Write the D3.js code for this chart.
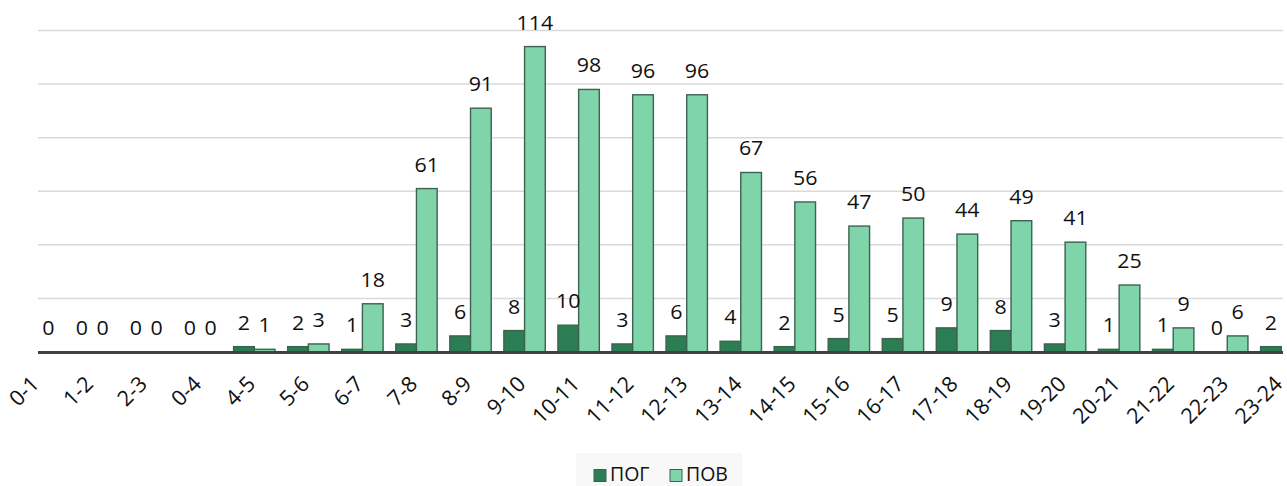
<!DOCTYPE html>
<html>
<head>
<meta charset="utf-8">
<script src="https://cdn.jsdelivr.net/npm/d3@7"></script>
<style>
  html, body { margin: 0; padding: 0; background: #ffffff; }
  svg { display: block; font-family: "Open Sans", "Noto Sans", sans-serif; }
</style>
</head>
<body>
<svg id="chart" width="1287" height="486"></svg>
<script>
const categories = ["0-1","1-2","2-3","0-4","4-5","5-6","6-7","7-8","8-9","9-10","10-11","11-12","12-13","13-14","14-15","15-16","16-17","17-18","18-19","19-20","20-21","21-22","22-23","23-24"];
const seriesNames = ["ПОГ", "ПОВ"];
const pogValues = [0,0,0,0,2,2,1,3,6,8,10,3,6,4,2,5,5,9,8,3,1,1,0,2];
// last ПОВ value lies outside the plot area in the reference (not visible)
const povValues = [0,0,0,0,1,3,18,61,91,114,98,96,96,67,56,47,50,44,49,41,25,9,6,null];
const gridTicks = [0,20,40,60,80,100,120];

const colors = { "ПОГ": "#2b7d53", "ПОВ": "#7fd5a9" };
const strokeCol = "#3d6251";

const svg = d3.select("#chart");
const plotLeft = 38, plotRight = 1283;

const x = d3.scalePoint().domain(categories).range([38.1, 1281.3]);
const xs = d3.scaleBand().domain(seriesNames).range([-20.7, 20.7]).padding(0);
const y = d3.scaleLinear().domain([0, 120]).range([352, 30.5]);

// gridlines
svg.append("g").selectAll("line").data(gridTicks.filter(d => d > 0)).join("line")
  .attr("x1", plotLeft).attr("x2", plotRight)
  .attr("y1", d => y(d)).attr("y2", d => y(d))
  .attr("stroke", "#d9d9d9").attr("stroke-width", 1.5);

svg.append("defs").append("clipPath").attr("id", "plotclip")
  .append("rect").attr("x", plotLeft).attr("y", 0)
  .attr("width", plotRight - plotLeft).attr("height", 360);

const data = categories.map((c, i) => ({ c, vals: [
  { s: "ПОГ", v: pogValues[i] }, { s: "ПОВ", v: povValues[i] } ].filter(d => d.v !== null) }));

const plot = svg.append("g").attr("clip-path", "url(#plotclip)");

const groups = plot.selectAll("g.cat").data(data).join("g")
  .attr("class", "cat")
  .attr("transform", d => `translate(${x(d.c)},0)`);

groups.selectAll("rect").data(d => d.vals).join("rect")
  .attr("x", d => xs(d.s))
  .attr("width", xs.bandwidth())
  .attr("y", d => y(d.v))
  .attr("height", d => y(0) - y(d.v))
  .attr("fill", d => colors[d.s])
  .attr("stroke", strokeCol)
  .attr("stroke-width", 1.4);

// data labels (only those whose bar centre is inside the plot area)
const labelData = [];
data.forEach(d => d.vals.forEach(v => {
  const cx = x(d.c) + xs(v.s) + xs.bandwidth() / 2;
  if (cx >= plotLeft && cx <= plotRight) labelData.push({ cx, v: v.v });
}));
svg.append("g").selectAll("text").data(labelData).join("text")
  .attr("transform", d => `translate(${d.cx},${y(d.v) - 17}) scale(1.07,1)`)
  .attr("text-anchor", "middle")
  .attr("font-size", 20)
  .attr("fill", "#111")
  .text(d => d.v);

// axis line
svg.append("line")
  .attr("x1", plotLeft).attr("x2", plotRight)
  .attr("y1", y(0) + 0.5).attr("y2", y(0) + 0.5)
  .attr("stroke", "#404040").attr("stroke-width", 3);

// category labels
svg.append("g").selectAll("text").data(categories).join("text")
  .attr("transform", d => `translate(${x(d) - 3},380) rotate(-45)`)
  .attr("text-anchor", "end")
  .attr("dy", "0.35em")
  .attr("font-size", 21.5)
  .attr("fill", "#111")
  .text(d => d);

// legend
const lg = svg.append("g");
lg.append("rect").attr("x", 576).attr("y", 453).attr("width", 166).attr("height", 33)
  .attr("fill", "#f8f8f8");
const legendItems = [
  { s: "ПОГ", sx: 594, tx: 610 },
  { s: "ПОВ", sx: 670, tx: 686 }
];
legendItems.forEach(it => {
  lg.append("rect").attr("x", it.sx).attr("y", 469.5).attr("width", 12).attr("height", 12)
    .attr("fill", colors[it.s]).attr("stroke", strokeCol).attr("stroke-width", 1);
  lg.append("text").attr("x", it.tx).attr("y", 481)
    .attr("font-size", 19.5).attr("fill", "#111").text(it.s);
});
</script>
</body>
</html>
